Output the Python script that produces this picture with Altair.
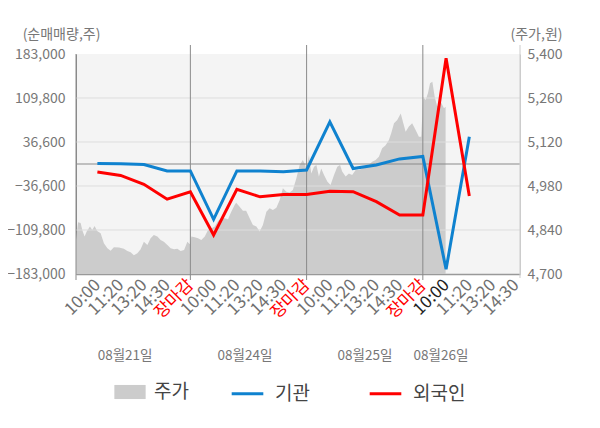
import altair as alt
import pandas as pd

# ---- investor net buying (shares) at each checkpoint slot ----
slots = list(range(1, 18))
inst = [800, 500, -800, -11600, -11600, -92000, -11600, -11600, -12800, -10000,
        70000, -7500, -1700, 8500, 12500, -175100, 45400]
foreign = [-13200, -19000, -33800, -58500, -46100, -118100, -42000, -54600, -50800, -50800,
           -45400, -46100, -62700, -84800, -84800, 175800, -53200]

# ---- intraday price (won) ----
price_x = [0.08, 0.17, 0.28, 0.35, 0.45, 0.54, 0.68, 0.78, 0.88, 0.99, 1.14, 1.28, 1.43, 1.57,
           1.71, 1.93, 2.14, 2.29, 2.43, 2.57, 2.72, 2.86, 3.0, 3.15, 3.29, 3.43, 3.58, 3.72,
           3.86, 4.01, 4.15, 4.3, 4.44, 4.58, 4.73, 4.87, 4.98,
           5.04, 5.19, 5.33, 5.47, 5.62, 5.76, 5.9, 6.05, 6.19, 6.33, 6.48, 6.62, 6.76, 6.91,
           6.97, 7.12, 7.26, 7.4, 7.55, 7.69, 7.84, 7.98, 8.12, 8.27, 8.41, 8.55, 8.7, 8.84,
           8.98, 9.13, 9.27, 9.41, 9.56, 9.7, 9.84, 9.94,
           10.0, 10.1, 10.2, 10.32, 10.42, 10.53, 10.63, 10.75, 10.89, 11.03, 11.18, 11.32,
           11.44, 11.53, 11.68, 11.82, 11.96, 12.11, 12.25, 12.39, 12.54, 12.68, 12.82, 12.97,
           13.11, 13.25, 13.4, 13.54, 13.64, 13.76, 13.9, 14.05, 14.14, 14.26, 14.4, 14.54,
           14.69, 14.83, 14.93,
           15.02, 15.12, 15.22, 15.31, 15.41, 15.51, 15.62, 15.77, 15.91, 15.98]
price_v = [4808, 4865, 4862, 4840, 4819, 4835, 4851, 4840, 4853, 4837, 4830, 4798, 4782, 4774,
           4785, 4784, 4780, 4773, 4769, 4760, 4766, 4779, 4803, 4792, 4814, 4824, 4819, 4808,
           4803, 4792, 4782, 4779, 4780, 4773, 4776, 4803, 4795,
           4819, 4817, 4814, 4808, 4819, 4840, 4845, 4851, 4869, 4877, 4877, 4874, 4898, 4920,
           4927, 4914, 4901, 4901, 4877, 4856, 4851, 4835, 4856, 4898, 4909, 4904, 4911, 4935,
           4973, 4962, 4959, 4967, 5005, 5047, 5063, 5047,
           5031, 5079, 5020, 5041, 5047, 5010, 5036, 5015, 4994, 4983, 5015, 5041,
           5047, 5026, 5010, 5020, 5015, 5031, 5031, 5036, 5041, 5047, 5057, 5063,
           5073, 5100, 5110, 5126, 5148, 5180, 5190, 5211, 5185, 5153, 5169, 5180,
           5158, 5137, 5137,
           5264, 5254, 5275, 5307, 5312, 5264, 5232, 5248, 5227, 5232]

# ---- axis labels ----
time_labels = ["10:00", "11:20", "13:20", "14:30", "장마감"] * 3 + ["10:00", "11:20", "13:20", "14:30"]
label_pos = list(range(1, len(time_labels) + 1))
left_ticks = [-183000, -109800, -36600, 36600, 109800, 183000]
right_ticks = [4700, 4840, 4980, 5120, 5260, 5400]
grid_vals = [-109800, -36600, 36600, 109800]
day_bounds = [5, 10, 15]
dates = ["08월21일", "08월24일", "08월25일", "08월26일"]
date_pos = [2.19, 7.35, 12.51, 15.78]

FONT = "Noto Sans CJK KR"
GRAY = "#777777"
BLUE = "#0f82cf"
RED = "#ff0000"

XDOM = [0.08, 19.18]
label_arr = "[" + ",".join("'%s'" % t for t in time_labels) + "]"

xscale = alt.Scale(domain=XDOM, nice=False, zero=False)
xaxis = alt.Axis(values=label_pos, labelExpr=label_arr + "[datum.value - 1]",
                 labelAngle=-45, labelAlign="right", labelBaseline="middle",
                 labelFontSize=17, labelPadding=8, labelFlush=False, labelOverlap=False,
                 labelColor={"condition": [{"test": "datum.value % 5 == 0", "value": RED},
                                           {"test": "datum.value == 16", "value": "#222222"}],
                             "value": "#707070"},
                 ticks=False, grid=False, domainColor="#999999", domainWidth=1.5, title=None)

netscale = alt.Scale(domain=[-183000, 183000], nice=False, zero=False)
pricescale = alt.Scale(domain=[4700, 5400], nice=False, zero=False)

net_axis = alt.Axis(values=left_ticks, format=",d", ticks=False, grid=False,
                    labelColor=GRAY, labelFontSize=14, labelPadding=11,
                    domainColor="#8a8a8a", title="(순매매량,주)", titleAngle=0,
                    titleAlign="center", titleBaseline="middle", titleX=-15, titleY=-20,
                    titleColor=GRAY, titleFontSize=14, titleFontWeight="normal")

price_df = pd.DataFrame({"x": price_x, "price": price_v, "k": "주가"})
area = alt.Chart(price_df).mark_area(color="#cccccc", opacity=1, interpolate="linear").encode(
    x=alt.X("x:Q", scale=xscale, axis=xaxis),
    y=alt.Y("price:Q", scale=pricescale,
            axis=alt.Axis(orient="right", values=right_ticks, format=",d", ticks=False, grid=False,
                          labelColor=GRAY, labelFontSize=14, labelPadding=7,
                          domainColor="#cccccc", title="(주가,원)", titleAngle=0,
                          titleAlign="center", titleBaseline="middle", titleX=16, titleY=-20,
                          titleColor=GRAY, titleFontSize=14, titleFontWeight="normal")),
    y2=alt.datum(4700),
    fill=alt.Fill("k:N", scale=alt.Scale(domain=["주가"], range=["#cccccc"]),
                  legend=alt.Legend(orient="none", legendX=38, legendY=322, title=None,
                                    symbolType="M-1,-0.45H1V0.45H-1Z", symbolSize=980,
                                    symbolStrokeWidth=0, labelFontSize=19, labelColor="#444444",
                                    labelOffset=8, padding=0)),
)

grid_df = pd.DataFrame({"v": grid_vals})
grid = alt.Chart(grid_df).mark_rule(color="#dddddd", strokeWidth=1).encode(
    y=alt.Y("v:Q", scale=netscale, axis=net_axis))

zero = alt.Chart(pd.DataFrame({"v": [0]})).mark_rule(color="#8a8a8a", strokeWidth=1).encode(
    y=alt.Y("v:Q", scale=netscale, axis=net_axis))

day_df = pd.DataFrame({"d": day_bounds})
days = alt.Chart(day_df).mark_rule(color="#8a8a8a", strokeWidth=1).encode(
    x=alt.X("d:Q", scale=xscale, axis=xaxis), y=alt.value(-9), y2=alt.value(226))

left_edge = alt.Chart(pd.DataFrame({"d": [XDOM[0]]})).mark_rule(color="#8a8a8a", strokeWidth=1).encode(
    x=alt.X("d:Q", scale=xscale, axis=xaxis), y=alt.value(0), y2=alt.value(226))
right_edge = alt.Chart(pd.DataFrame({"d": [XDOM[1]]})).mark_rule(color="#cccccc", strokeWidth=1).encode(
    x=alt.X("d:Q", scale=xscale, axis=xaxis), y=alt.value(-9), y2=alt.value(224))

lines_df = pd.concat([
    pd.DataFrame({"x": slots, "v": inst, "s": "기관", "o": 0}),
    pd.DataFrame({"x": slots, "v": foreign, "s": "외국인", "o": 1}),
])
lines = alt.Chart(lines_df).mark_line(strokeWidth=3).encode(
    x=alt.X("x:Q", scale=xscale, axis=xaxis),
    y=alt.Y("v:Q", scale=netscale, axis=net_axis),
    stroke=alt.Stroke("s:N", scale=alt.Scale(domain=["기관", "외국인"], range=[BLUE, RED]),
                      legend=alt.Legend(orient="none", direction="horizontal", legendX=154,
                                        legendY=322, title=None, symbolType="stroke",
                                        symbolSize=1000, symbolStrokeWidth=3,
                                        labelFontSize=19, labelColor="#444444", labelOffset=10,
                                        columnPadding=53, padding=0)),
    order="o:Q",
    detail="s:N",
)

date_df = pd.DataFrame({"x": date_pos, "t": dates})
date_text = alt.Chart(date_df).mark_text(fontSize=13.5, color=GRAY, font=FONT).encode(
    x=alt.X("x:Q", scale=xscale, axis=xaxis), y=alt.value(302), text="t:N")

net_layer = alt.layer(grid, zero, days, left_edge, right_edge, lines, date_text)

chart = alt.layer(area, net_layer).resolve_scale(y="independent").properties(
    width=444, height=220,
    autosize=alt.AutoSizeParams(type="none"),
    padding={"left": 68, "top": 46, "right": 72, "bottom": 146},
).configure(font=FONT).configure_view(fill="#f4f4f4", stroke=None).configure_axis(
    labelFont=FONT, titleFont=FONT).configure_legend(labelFont=FONT)

chart.save("out.html", embed_options={"renderer": "svg", "actions": False})
